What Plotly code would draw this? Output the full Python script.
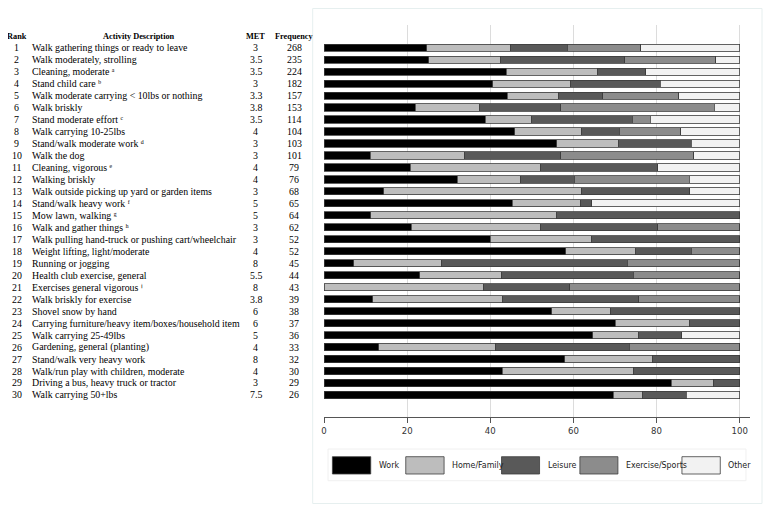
import plotly.graph_objects as go

ranks = list(range(1, 31))
activities = [
    "Walk gathering things or ready to leave",
    "Walk moderately, strolling",
    "Cleaning, moderate \u1d43",
    "Stand child care \u1d47",
    "Walk moderate carrying &lt; 10lbs or nothing",
    "Walk briskly",
    "Stand moderate effort \u1d9c",
    "Walk carrying 10-25lbs",
    "Stand/walk moderate work \u1d48",
    "Walk the dog",
    "Cleaning, vigorous \u1d49",
    "Walking briskly",
    "Walk outside picking up yard or garden items",
    "Stand/walk heavy work \u1da0",
    "Mow lawn, walking \u1d4d",
    "Walk and gather things \u02b0",
    "Walk pulling hand-truck or pushing cart/wheelchair",
    "Weight lifting, light/moderate",
    "Running or jogging",
    "Health club exercise, general",
    "Exercises general vigorous \u2071",
    "Walk briskly for exercise",
    "Shovel snow by hand",
    "Carrying furniture/heavy item/boxes/household item",
    "Walk carrying 25-49lbs",
    "Gardening, general (planting)",
    "Stand/walk very heavy work",
    "Walk/run play with children, moderate",
    "Driving a bus, heavy truck or tractor",
    "Walk carrying 50+lbs",
]
met = ["3", "3.5", "3.5", "3", "3.3", "3.8", "3.5", "4", "3", "3", "4", "4", "3", "5", "5",
       "3", "3", "4", "8", "5.5", "8", "3.8", "6", "6", "5", "4", "8", "4", "3", "7.5"]
frequency = [268, 235, 224, 182, 157, 153, 114, 104, 103, 101, 79, 76, 68, 65, 64,
             62, 52, 52, 45, 44, 43, 39, 38, 37, 36, 33, 32, 30, 29, 26]

work = [24.7, 25.2, 43.8, 40.6, 44.1, 22.0, 38.8, 45.9, 56.0, 11.1, 20.8, 32.0, 14.4, 45.3, 11.3,
        21.0, 40.0, 58.2, 7.2, 23.0, 0.0, 11.7, 54.8, 70.1, 64.7, 13.2, 57.9, 42.9, 83.5, 69.6]
home = [20.1, 17.2, 22.1, 18.6, 12.3, 15.3, 11.0, 16.1, 14.8, 22.8, 31.4, 15.3, 47.6, 16.3, 44.6,
        31.2, 24.4, 16.7, 21.1, 19.8, 38.4, 31.2, 14.2, 17.8, 11.0, 28.1, 21.2, 31.6, 10.2, 7.0]
leisure = [13.7, 29.9, 11.5, 21.7, 10.6, 19.6, 24.4, 9.0, 17.6, 23.0, 28.1, 12.9, 26.0, 2.8, 44.1,
           28.1, 35.6, 13.5, 44.7, 31.6, 20.7, 32.8, 31.0, 12.1, 10.4, 32.1, 20.9, 25.5, 6.3, 10.6]
exercise = [17.7, 21.9, 0.0, 0.0, 18.3, 37.0, 4.3, 14.8, 0.0, 32.0, 0.0, 27.7, 0.0, 0.0, 0.0,
            19.7, 0.0, 11.6, 27.0, 25.6, 40.9, 24.3, 0.0, 0.0, 0.0, 26.6, 0.0, 0.0, 0.0, 0.0]
other = [23.8, 5.8, 22.6, 19.1, 14.7, 6.1, 21.5, 14.2, 11.6, 11.1, 19.7, 12.1, 12.0, 35.6, 0.0,
         0.0, 0.0, 0.0, 0.0, 0.0, 0.0, 0.0, 0.0, 0.0, 13.9, 0.0, 0.0, 0.0, 0.0, 12.8]

series_names = ["Work", "Home/Family", "Leisure", "Exercise/Sports", "Other"]
series_values = [work, home, leisure, exercise, other]
colors = ["#000000", "#bdbdbd", "#595959", "#8c8c8c", "#f2f2f2"]
x_ticks = [0, 20, 40, 60, 80, 100]

OFF = 8  # page body margin of the html page
W, H = 771 - OFF, 513 - OFF
L, R, T, B = 324.3 - OFF, 750.0 - OFF, 25.0 - OFF, 417.0 - OFF


def px(x):
    return (x - OFF - L) / (R - L)


def py(y):
    return 1 - (y - OFF - T) / (B - T)


fig = go.Figure()
for name, vals, col in zip(series_names, series_values, colors):
    fig.add_trace(go.Bar(
        y=ranks, x=vals, name=name, orientation="h", width=0.6,
        marker=dict(color=col, line=dict(color="#3c3c3c", width=0.8)),
        showlegend=False, hoverinfo="x+name",
    ))

serif = "Liberation Serif, Times New Roman, serif"
narrow = "DejaVu Sans Condensed, Liberation Sans Narrow, Arial Narrow, sans-serif"
FS = 9.9
ann = []
hdr_y = 0.05
for text, xc in [("Rank", 17.3), ("Activity Description", 139), ("MET", 256), ("Frequency", 294.5)]:
    ann.append(dict(x=px(xc), y=hdr_y, xref="paper", yref="y", text="<b>%s</b>" % text,
                    showarrow=False, xanchor="center", yanchor="middle",
                    font=dict(family=serif, size=8.3, color="#000")))
for r, a, m, f in zip(ranks, activities, met, frequency):
    ann.append(dict(x=px(17.3), y=r, xref="paper", yref="y", text=str(r), showarrow=False,
                    xanchor="center", yanchor="middle", font=dict(family=serif, size=FS, color="#000")))
    ann.append(dict(x=px(31), y=r, xref="paper", yref="y", text=a, showarrow=False,
                    xanchor="left", yanchor="middle", font=dict(family=serif, size=FS, color="#000")))
    ann.append(dict(x=px(256), y=r, xref="paper", yref="y", text=m, showarrow=False,
                    xanchor="center", yanchor="middle", font=dict(family=serif, size=FS, color="#000")))
    ann.append(dict(x=px(294.5), y=r, xref="paper", yref="y", text=str(f), showarrow=False,
                    xanchor="center", yanchor="middle", font=dict(family=serif, size=FS, color="#000")))

shapes = []
# outer frame
shapes.append(dict(type="rect", xref="paper", yref="paper", x0=px(313), x1=px(762), y0=py(503.5), y1=py(8.5),
                   line=dict(color="#e6efef", width=1), fillcolor="rgba(0,0,0,0)", layer="below"))
# legend box
shapes.append(dict(type="rect", xref="paper", yref="paper", x0=px(328.3), x1=px(746), y0=py(480.7), y1=py(449),
                   line=dict(color="#f0f0f0", width=1), fillcolor="rgba(0,0,0,0)"))
leg_rects = [(332.7, 371), (406, 444.3), (501.7, 539.7), (580, 618), (682, 720.3)]
leg_text_x = [377, 450, 545.7, 624, 726]
for (x0, x1), tx, name, col in zip(leg_rects, leg_text_x, series_names, colors):
    shapes.append(dict(type="rect", xref="paper", yref="paper", x0=px(x0), x1=px(x1), y0=py(474), y1=py(456.7),
                       fillcolor=col, line=dict(color="#3c3c3c", width=0.8)))
    ann.append(dict(x=px(tx), y=py(465.3), xref="paper", yref="paper", text=name, showarrow=False,
                    xanchor="left", yanchor="middle", font=dict(family=narrow, size=8.8, color="#222")))

fig.update_layout(
    width=W, height=H, barmode="stack", bargap=0.4,
    margin=dict(l=L, r=W - R, t=T, b=H - B, pad=0),
    paper_bgcolor="white", plot_bgcolor="white",
    annotations=ann, shapes=shapes,
    xaxis=dict(range=[0, (R - L) / 4.154], tickvals=x_ticks, ticktext=[str(t) for t in x_ticks],
               showgrid=True, gridcolor="#dcdcdc", gridwidth=1, zeroline=False,
               showline=True, linecolor="#555", linewidth=1, ticks="outside", ticklen=5,
               tickcolor="#555", tickfont=dict(family=narrow, size=9.5, color="#333")),
    yaxis=dict(range=[31.84, -0.895], showticklabels=False, showgrid=False, zeroline=False,
               showline=False, ticks=""),
)
fig.write_html("out.html")
